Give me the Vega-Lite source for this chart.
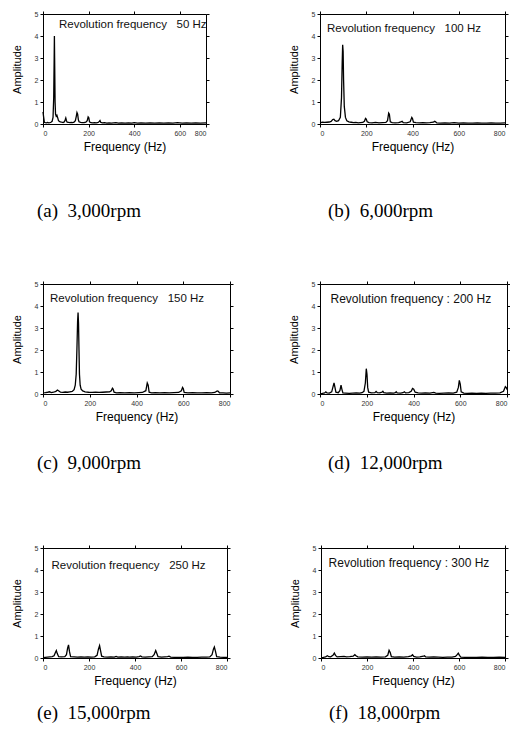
{
  "$schema": "https://vega.github.io/schema/vega-lite/v6.json",
  "padding": {"left": 10, "top": 9, "right": 0, "bottom": 0},
  "background": "white",
  "datasets": {
    "a": [
      {"f":0,"amp":0.55},{"f":3,"amp":0.3},{"f":6,"amp":0.08},{"f":10,"amp":0.06},{"f":15,"amp":0.05},{"f":20,"amp":0.07},{"f":25,"amp":0.05},{"f":30,"amp":0.06},{"f":35,"amp":0.08},{"f":40,"amp":0.12},{"f":44,"amp":0.3},{"f":47,"amp":1.2},{"f":49,"amp":3.0},{"f":50,"amp":4.0},{"f":51,"amp":3.0},{"f":53,"amp":1.0},{"f":55,"amp":0.45},{"f":58,"amp":0.35},{"f":61,"amp":0.4},{"f":64,"amp":0.3},{"f":68,"amp":0.15},{"f":72,"amp":0.12},{"f":76,"amp":0.1},{"f":82,"amp":0.08},{"f":88,"amp":0.07},{"f":94,"amp":0.1},{"f":97,"amp":0.18},{"f":100,"amp":0.27},{"f":103,"amp":0.15},{"f":106,"amp":0.08},{"f":112,"amp":0.07},{"f":118,"amp":0.06},{"f":124,"amp":0.07},{"f":130,"amp":0.06},{"f":136,"amp":0.08},{"f":142,"amp":0.15},{"f":146,"amp":0.35},{"f":149,"amp":0.52},{"f":152,"amp":0.45},{"f":155,"amp":0.2},{"f":158,"amp":0.1},{"f":165,"amp":0.07},{"f":172,"amp":0.06},{"f":180,"amp":0.06},{"f":188,"amp":0.08},{"f":194,"amp":0.15},{"f":198,"amp":0.32},{"f":201,"amp":0.28},{"f":204,"amp":0.1},{"f":210,"amp":0.06},{"f":218,"amp":0.05},{"f":226,"amp":0.06},{"f":234,"amp":0.05},{"f":242,"amp":0.07},{"f":247,"amp":0.12},{"f":250,"amp":0.16},{"f":253,"amp":0.08},{"f":260,"amp":0.05},{"f":270,"amp":0.06},{"f":280,"amp":0.04},{"f":290,"amp":0.05},{"f":300,"amp":0.04},{"f":310,"amp":0.05},{"f":320,"amp":0.06},{"f":330,"amp":0.04},{"f":345,"amp":0.05},{"f":360,"amp":0.04},{"f":375,"amp":0.05},{"f":390,"amp":0.04},{"f":400,"amp":0.06},{"f":415,"amp":0.04},{"f":430,"amp":0.05},{"f":450,"amp":0.04},{"f":470,"amp":0.05},{"f":490,"amp":0.04},{"f":510,"amp":0.05},{"f":530,"amp":0.04},{"f":550,"amp":0.05},{"f":570,"amp":0.04},{"f":590,"amp":0.06},{"f":610,"amp":0.04},{"f":630,"amp":0.05},{"f":650,"amp":0.04},{"f":670,"amp":0.05},{"f":690,"amp":0.04},{"f":715,"amp":0.05}
    ],
    "b": [
      {"f":0,"amp":0.05},{"f":10,"amp":0.08},{"f":20,"amp":0.07},{"f":30,"amp":0.08},{"f":40,"amp":0.09},{"f":48,"amp":0.12},{"f":55,"amp":0.2},{"f":60,"amp":0.22},{"f":65,"amp":0.15},{"f":72,"amp":0.12},{"f":80,"amp":0.15},{"f":88,"amp":0.3},{"f":93,"amp":1.2},{"f":96,"amp":2.8},{"f":98,"amp":3.6},{"f":100,"amp":3.3},{"f":102,"amp":2.0},{"f":105,"amp":0.8},{"f":110,"amp":0.3},{"f":116,"amp":0.15},{"f":125,"amp":0.1},{"f":135,"amp":0.08},{"f":145,"amp":0.06},{"f":155,"amp":0.07},{"f":165,"amp":0.05},{"f":175,"amp":0.06},{"f":185,"amp":0.07},{"f":192,"amp":0.12},{"f":197,"amp":0.25},{"f":200,"amp":0.22},{"f":204,"amp":0.1},{"f":212,"amp":0.06},{"f":225,"amp":0.05},{"f":240,"amp":0.07},{"f":255,"amp":0.05},{"f":270,"amp":0.06},{"f":285,"amp":0.07},{"f":292,"amp":0.15},{"f":297,"amp":0.5},{"f":300,"amp":0.45},{"f":304,"amp":0.1},{"f":312,"amp":0.06},{"f":325,"amp":0.05},{"f":340,"amp":0.06},{"f":350,"amp":0.1},{"f":355,"amp":0.12},{"f":360,"amp":0.06},{"f":375,"amp":0.05},{"f":390,"amp":0.1},{"f":397,"amp":0.3},{"f":400,"amp":0.25},{"f":404,"amp":0.08},{"f":415,"amp":0.06},{"f":430,"amp":0.05},{"f":445,"amp":0.06},{"f":460,"amp":0.05},{"f":475,"amp":0.06},{"f":490,"amp":0.08},{"f":496,"amp":0.12},{"f":500,"amp":0.1},{"f":505,"amp":0.05},{"f":520,"amp":0.04},{"f":540,"amp":0.05},{"f":560,"amp":0.04},{"f":580,"amp":0.06},{"f":590,"amp":0.05},{"f":600,"amp":0.04},{"f":620,"amp":0.05},{"f":640,"amp":0.04},{"f":660,"amp":0.04},{"f":680,"amp":0.05},{"f":700,"amp":0.04},{"f":720,"amp":0.04},{"f":740,"amp":0.05},{"f":760,"amp":0.04},{"f":780,"amp":0.04},{"f":800,"amp":0.05}
    ],
    "c": [
      {"f":0,"amp":0.05},{"f":10,"amp":0.06},{"f":20,"amp":0.08},{"f":28,"amp":0.1},{"f":35,"amp":0.06},{"f":45,"amp":0.08},{"f":55,"amp":0.12},{"f":62,"amp":0.18},{"f":68,"amp":0.14},{"f":75,"amp":0.08},{"f":85,"amp":0.07},{"f":95,"amp":0.09},{"f":105,"amp":0.08},{"f":115,"amp":0.1},{"f":125,"amp":0.12},{"f":133,"amp":0.2},{"f":138,"amp":0.4},{"f":142,"amp":0.9},{"f":145,"amp":2.0},{"f":148,"amp":3.3},{"f":150,"amp":3.7},{"f":152,"amp":3.2},{"f":154,"amp":2.0},{"f":156,"amp":0.9},{"f":159,"amp":0.4},{"f":163,"amp":0.22},{"f":170,"amp":0.14},{"f":180,"amp":0.1},{"f":195,"amp":0.08},{"f":210,"amp":0.07},{"f":225,"amp":0.08},{"f":240,"amp":0.07},{"f":255,"amp":0.08},{"f":270,"amp":0.09},{"f":285,"amp":0.1},{"f":292,"amp":0.15},{"f":297,"amp":0.26},{"f":300,"amp":0.22},{"f":304,"amp":0.08},{"f":315,"amp":0.05},{"f":330,"amp":0.06},{"f":350,"amp":0.05},{"f":370,"amp":0.06},{"f":390,"amp":0.05},{"f":410,"amp":0.06},{"f":425,"amp":0.07},{"f":440,"amp":0.15},{"f":446,"amp":0.5},{"f":450,"amp":0.4},{"f":454,"amp":0.08},{"f":465,"amp":0.05},{"f":480,"amp":0.06},{"f":500,"amp":0.05},{"f":520,"amp":0.06},{"f":540,"amp":0.05},{"f":560,"amp":0.06},{"f":580,"amp":0.07},{"f":592,"amp":0.15},{"f":597,"amp":0.3},{"f":600,"amp":0.25},{"f":604,"amp":0.07},{"f":620,"amp":0.05},{"f":640,"amp":0.06},{"f":660,"amp":0.05},{"f":680,"amp":0.05},{"f":700,"amp":0.06},{"f":720,"amp":0.05},{"f":735,"amp":0.07},{"f":745,"amp":0.14},{"f":750,"amp":0.12},{"f":755,"amp":0.05},{"f":770,"amp":0.05},{"f":785,"amp":0.04},{"f":800,"amp":0.05}
    ],
    "d": [
      {"f":0,"amp":0.02},{"f":10,"amp":0.03},{"f":20,"amp":0.05},{"f":25,"amp":0.1},{"f":30,"amp":0.05},{"f":40,"amp":0.04},{"f":50,"amp":0.1},{"f":55,"amp":0.3},{"f":60,"amp":0.5},{"f":64,"amp":0.3},{"f":68,"amp":0.08},{"f":78,"amp":0.06},{"f":85,"amp":0.15},{"f":90,"amp":0.4},{"f":94,"amp":0.2},{"f":98,"amp":0.05},{"f":110,"amp":0.04},{"f":125,"amp":0.03},{"f":140,"amp":0.04},{"f":155,"amp":0.05},{"f":170,"amp":0.04},{"f":180,"amp":0.06},{"f":188,"amp":0.12},{"f":194,"amp":0.5},{"f":198,"amp":1.15},{"f":201,"amp":0.9},{"f":204,"amp":0.3},{"f":208,"amp":0.08},{"f":220,"amp":0.05},{"f":235,"amp":0.06},{"f":240,"amp":0.12},{"f":245,"amp":0.06},{"f":255,"amp":0.05},{"f":265,"amp":0.08},{"f":269,"amp":0.12},{"f":273,"amp":0.06},{"f":285,"amp":0.04},{"f":300,"amp":0.05},{"f":315,"amp":0.04},{"f":322,"amp":0.06},{"f":326,"amp":0.1},{"f":330,"amp":0.05},{"f":345,"amp":0.04},{"f":355,"amp":0.06},{"f":361,"amp":0.1},{"f":366,"amp":0.05},{"f":380,"amp":0.06},{"f":390,"amp":0.12},{"f":396,"amp":0.25},{"f":401,"amp":0.22},{"f":407,"amp":0.08},{"f":420,"amp":0.05},{"f":435,"amp":0.04},{"f":450,"amp":0.05},{"f":470,"amp":0.04},{"f":487,"amp":0.07},{"f":495,"amp":0.04},{"f":510,"amp":0.03},{"f":530,"amp":0.04},{"f":550,"amp":0.05},{"f":570,"amp":0.04},{"f":585,"amp":0.08},{"f":592,"amp":0.3},{"f":596,"amp":0.62},{"f":600,"amp":0.45},{"f":604,"amp":0.1},{"f":615,"amp":0.04},{"f":630,"amp":0.03},{"f":650,"amp":0.04},{"f":670,"amp":0.03},{"f":690,"amp":0.04},{"f":710,"amp":0.03},{"f":730,"amp":0.04},{"f":750,"amp":0.04},{"f":770,"amp":0.05},{"f":785,"amp":0.12},{"f":793,"amp":0.33},{"f":798,"amp":0.28},{"f":800,"amp":0.2}
    ],
    "e": [
      {"f":0,"amp":0.02},{"f":10,"amp":0.03},{"f":20,"amp":0.04},{"f":30,"amp":0.05},{"f":40,"amp":0.06},{"f":48,"amp":0.1},{"f":54,"amp":0.25},{"f":58,"amp":0.34},{"f":62,"amp":0.2},{"f":68,"amp":0.06},{"f":80,"amp":0.05},{"f":95,"amp":0.06},{"f":102,"amp":0.15},{"f":107,"amp":0.45},{"f":111,"amp":0.6},{"f":115,"amp":0.3},{"f":120,"amp":0.06},{"f":135,"amp":0.05},{"f":150,"amp":0.04},{"f":165,"amp":0.05},{"f":180,"amp":0.04},{"f":195,"amp":0.05},{"f":210,"amp":0.04},{"f":225,"amp":0.05},{"f":235,"amp":0.12},{"f":241,"amp":0.4},{"f":246,"amp":0.56},{"f":250,"amp":0.35},{"f":255,"amp":0.08},{"f":265,"amp":0.05},{"f":280,"amp":0.04},{"f":295,"amp":0.05},{"f":310,"amp":0.04},{"f":318,"amp":0.07},{"f":325,"amp":0.04},{"f":340,"amp":0.05},{"f":355,"amp":0.04},{"f":368,"amp":0.05},{"f":375,"amp":0.04},{"f":390,"amp":0.05},{"f":405,"amp":0.04},{"f":418,"amp":0.06},{"f":424,"amp":0.09},{"f":430,"amp":0.05},{"f":445,"amp":0.04},{"f":460,"amp":0.05},{"f":475,"amp":0.06},{"f":483,"amp":0.15},{"f":490,"amp":0.34},{"f":495,"amp":0.2},{"f":500,"amp":0.06},{"f":515,"amp":0.04},{"f":530,"amp":0.05},{"f":542,"amp":0.06},{"f":548,"amp":0.08},{"f":555,"amp":0.04},{"f":570,"amp":0.03},{"f":590,"amp":0.03},{"f":610,"amp":0.03},{"f":630,"amp":0.04},{"f":650,"amp":0.03},{"f":670,"amp":0.03},{"f":690,"amp":0.04},{"f":710,"amp":0.04},{"f":725,"amp":0.05},{"f":735,"amp":0.15},{"f":741,"amp":0.4},{"f":745,"amp":0.5},{"f":750,"amp":0.3},{"f":755,"amp":0.06},{"f":770,"amp":0.04},{"f":785,"amp":0.03},{"f":800,"amp":0.03}
    ],
    "f": [
      {"f":0,"amp":0.02},{"f":10,"amp":0.03},{"f":20,"amp":0.05},{"f":28,"amp":0.1},{"f":34,"amp":0.06},{"f":42,"amp":0.05},{"f":52,"amp":0.12},{"f":58,"amp":0.22},{"f":63,"amp":0.12},{"f":70,"amp":0.05},{"f":85,"amp":0.06},{"f":100,"amp":0.07},{"f":110,"amp":0.05},{"f":125,"amp":0.06},{"f":140,"amp":0.08},{"f":147,"amp":0.15},{"f":152,"amp":0.1},{"f":160,"amp":0.05},{"f":180,"amp":0.04},{"f":200,"amp":0.05},{"f":220,"amp":0.04},{"f":240,"amp":0.05},{"f":260,"amp":0.04},{"f":280,"amp":0.05},{"f":290,"amp":0.12},{"f":296,"amp":0.35},{"f":301,"amp":0.25},{"f":306,"amp":0.06},{"f":320,"amp":0.04},{"f":340,"amp":0.05},{"f":360,"amp":0.04},{"f":380,"amp":0.06},{"f":393,"amp":0.1},{"f":398,"amp":0.15},{"f":403,"amp":0.07},{"f":415,"amp":0.04},{"f":430,"amp":0.05},{"f":445,"amp":0.08},{"f":450,"amp":0.1},{"f":455,"amp":0.05},{"f":470,"amp":0.04},{"f":490,"amp":0.05},{"f":510,"amp":0.04},{"f":530,"amp":0.03},{"f":550,"amp":0.04},{"f":570,"amp":0.04},{"f":585,"amp":0.07},{"f":592,"amp":0.15},{"f":597,"amp":0.22},{"f":602,"amp":0.12},{"f":608,"amp":0.04},{"f":625,"amp":0.03},{"f":650,"amp":0.03},{"f":675,"amp":0.03},{"f":700,"amp":0.04},{"f":725,"amp":0.03},{"f":750,"amp":0.03},{"f":775,"amp":0.04},{"f":800,"amp":0.03}
    ]
  },
  "bounds": "flush",
  "spacing": 270,
  "vconcat": [
    {
      "hconcat": [
        {
          "width": 163, "height": 110,
          "title": {"text": "(a)\u00a0 3,000rpm", "dx": -6, "offset": 50},
          "resolve": {"axis": {"x": "independent", "y": "independent"}},
          "layer": [
            {"data": {"name": "a"}, "mark": {"type": "line", "color": "black", "strokeWidth": 1.3},
             "encoding": {
               "x": {"field": "f", "type": "quantitative", "scale": {"domain": [0, 715], "nice": false}, "axis": {"values": [0, 200, 400, 600, 715], "labelExpr": "datum.value == 715 ? '800' : datum.label", "title": "Frequency (Hz)"}},
               "y": {"field": "amp", "type": "quantitative", "scale": {"domain": [0, 5]}, "axis": {"values": [0, 1, 2, 3, 4, 5], "title": "Amplitude"}}}},
            {"data": {"values": [{"f": 70, "amp": 4.5, "label": "Revolution frequency \u00a0 50 Hz"}]}, "mark": {"type": "text", "align": "left", "baseline": "middle", "fontSize": 11.5, "color": "#111"},
             "encoding": {
               "x": {"field": "f", "type": "quantitative", "axis": {"orient": "top", "labels": false, "title": null, "values": [0, 200, 400, 600], "domain": false}},
               "y": {"field": "amp", "type": "quantitative", "axis": {"orient": "right", "labels": false, "title": null, "values": [0, 1, 2, 3, 4, 5], "domain": false}},
               "text": {"field": "label"}}}
          ]
        },
        {
          "width": 185, "height": 110,
          "title": {"text": "(b)\u00a0 6,000rpm", "dx": 8, "offset": 50},
          "resolve": {"axis": {"x": "independent", "y": "independent"}},
          "layer": [
            {"data": {"name": "b"}, "mark": {"type": "line", "color": "black", "strokeWidth": 1.3},
             "encoding": {
               "x": {"field": "f", "type": "quantitative", "scale": {"domain": [0, 800], "nice": false}, "axis": {"values": [0, 200, 400, 600, 800], "title": "Frequency (Hz)"}},
               "y": {"field": "amp", "type": "quantitative", "scale": {"domain": [0, 5]}, "axis": {"values": [0, 1, 2, 3, 4, 5], "title": "Amplitude"}}}},
            {"data": {"values": [{"f": 30, "amp": 4.3, "label": "Revolution frequency \u00a0 100 Hz"}]}, "mark": {"type": "text", "align": "left", "baseline": "middle", "fontSize": 11.5, "color": "#111"},
             "encoding": {
               "x": {"field": "f", "type": "quantitative", "axis": {"orient": "top", "labels": false, "title": null, "values": [0, 200, 400, 600, 800], "domain": false}},
               "y": {"field": "amp", "type": "quantitative", "axis": {"orient": "right", "labels": false, "title": null, "values": [0, 1, 2, 3, 4, 5], "domain": false}},
               "text": {"field": "label"}}}
          ]
        }
      ],
      "spacing": 114,
      "bounds": "flush"
    },
    {
      "vconcat": [
        {
          "hconcat": [
            {
              "width": 187, "height": 110,
              "title": {"text": "(c)\u00a0 9,000rpm", "dx": -6, "offset": 32},
              "resolve": {"axis": {"x": "independent", "y": "independent"}},
              "layer": [
                {"data": {"name": "c"}, "mark": {"type": "line", "color": "black", "strokeWidth": 1.3},
                 "encoding": {
                   "x": {"field": "f", "type": "quantitative", "scale": {"domain": [0, 800], "nice": false}, "axis": {"values": [0, 200, 400, 600, 800], "title": "Frequency (Hz)"}},
                   "y": {"field": "amp", "type": "quantitative", "scale": {"domain": [0, 5]}, "axis": {"values": [0, 1, 2, 3, 4, 5], "title": "Amplitude"}}}},
                {"data": {"values": [{"f": 30, "amp": 4.33, "label": "Revolution frequency \u00a0 150 Hz"}]}, "mark": {"type": "text", "align": "left", "baseline": "middle", "fontSize": 11.5, "color": "#111"},
                 "encoding": {
                   "x": {"field": "f", "type": "quantitative", "axis": {"orient": "top", "labels": false, "title": null, "values": [0, 200, 400, 600, 800], "domain": false}},
                   "y": {"field": "amp", "type": "quantitative", "axis": {"orient": "right", "labels": false, "title": null, "values": [0, 1, 2, 3, 4, 5], "domain": false}},
                   "text": {"field": "label"}}}
              ]
            },
            {
              "width": 187, "height": 110,
              "title": {"text": "(d)\u00a0 12,000rpm", "dx": 8, "offset": 32},
              "resolve": {"axis": {"x": "independent", "y": "independent"}},
              "layer": [
                {"data": {"name": "d"}, "mark": {"type": "line", "color": "black", "strokeWidth": 1.3},
                 "encoding": {
                   "x": {"field": "f", "type": "quantitative", "scale": {"domain": [0, 800], "nice": false}, "axis": {"values": [0, 200, 400, 600, 800], "title": "Frequency (Hz)"}},
                   "y": {"field": "amp", "type": "quantitative", "scale": {"domain": [0, 5]}, "axis": {"values": [0, 1, 2, 3, 4, 5], "title": "Amplitude"}}}},
                {"data": {"values": [{"f": 45, "amp": 4.33, "label": "Revolution frequency : 200 Hz"}]}, "mark": {"type": "text", "align": "left", "baseline": "middle", "fontSize": 12, "color": "#111"},
                 "encoding": {
                   "x": {"field": "f", "type": "quantitative", "axis": {"orient": "top", "labels": false, "title": null, "values": [0, 200, 400, 600, 800], "domain": false}},
                   "y": {"field": "amp", "type": "quantitative", "axis": {"orient": "right", "labels": false, "title": null, "values": [0, 1, 2, 3, 4, 5], "domain": false}},
                   "text": {"field": "label"}}}
              ]
            }
          ],
          "spacing": 90,
          "bounds": "flush"
        },
        {
          "hconcat": [
            {
              "width": 184, "height": 110,
              "title": {"text": "(e)\u00a0 15,000rpm", "dx": -6, "offset": 18},
              "resolve": {"axis": {"x": "independent", "y": "independent"}},
              "layer": [
                {"data": {"name": "e"}, "mark": {"type": "line", "color": "black", "strokeWidth": 1.3},
                 "encoding": {
                   "x": {"field": "f", "type": "quantitative", "scale": {"domain": [0, 800], "nice": false}, "axis": {"values": [0, 200, 400, 600, 800], "title": "Frequency (Hz)"}},
                   "y": {"field": "amp", "type": "quantitative", "scale": {"domain": [0, 5]}, "axis": {"values": [0, 1, 2, 3, 4, 5], "title": "Amplitude"}}}},
                {"data": {"values": [{"f": 37, "amp": 4.2, "label": "Revolution frequency \u00a0 250 Hz"}]}, "mark": {"type": "text", "align": "left", "baseline": "middle", "fontSize": 11.5, "color": "#111"},
                 "encoding": {
                   "x": {"field": "f", "type": "quantitative", "axis": {"orient": "top", "labels": false, "title": null, "values": [0, 200, 400, 600, 800], "domain": false}},
                   "y": {"field": "amp", "type": "quantitative", "axis": {"orient": "right", "labels": false, "title": null, "values": [0, 1, 2, 3, 4, 5], "domain": false}},
                   "text": {"field": "label"}}}
              ]
            },
            {
              "width": 184, "height": 110,
              "title": {"text": "(f)\u00a0 18,000rpm", "dx": 8, "offset": 18},
              "resolve": {"axis": {"x": "independent", "y": "independent"}},
              "layer": [
                {"data": {"name": "f"}, "mark": {"type": "line", "color": "black", "strokeWidth": 1.3},
                 "encoding": {
                   "x": {"field": "f", "type": "quantitative", "scale": {"domain": [0, 800], "nice": false}, "axis": {"values": [0, 200, 400, 600, 800], "title": "Frequency (Hz)"}},
                   "y": {"field": "amp", "type": "quantitative", "scale": {"domain": [0, 5]}, "axis": {"values": [0, 1, 2, 3, 4, 5], "title": "Amplitude"}}}},
                {"data": {"values": [{"f": 33, "amp": 4.32, "label": "Revolution frequency : 300 Hz"}]}, "mark": {"type": "text", "align": "left", "baseline": "middle", "fontSize": 12, "color": "#111"},
                 "encoding": {
                   "x": {"field": "f", "type": "quantitative", "axis": {"orient": "top", "labels": false, "title": null, "values": [0, 200, 400, 600, 800], "domain": false}},
                   "y": {"field": "amp", "type": "quantitative", "axis": {"orient": "right", "labels": false, "title": null, "values": [0, 1, 2, 3, 4, 5], "domain": false}},
                   "text": {"field": "label"}}}
              ]
            }
          ],
          "spacing": 94,
          "bounds": "flush"
        }
      ],
      "spacing": 264,
      "bounds": "flush"
    }
  ],
  "config": {
    "view": {"stroke": "black", "strokeWidth": 1},
    "axis": {"grid": false, "domainColor": "black", "tickColor": "black", "tickSize": 3, "labelFont": "Liberation Sans", "labelFontSize": 7, "labelColor": "#333", "labelPadding": 2, "titleFont": "Liberation Sans", "titleFontSize": 11, "titleFontWeight": "normal", "titleColor": "black"},
    "axisX": {"titlePadding": 5, "titleFontSize": 12},
    "axisY": {"titlePadding": 12},
    "text": {"font": "Liberation Sans"},
    "title": {"font": "Liberation Serif", "fontSize": 19, "fontWeight": "normal", "orient": "bottom", "anchor": "start", "frame": "group", "color": "black"}
  }
}
